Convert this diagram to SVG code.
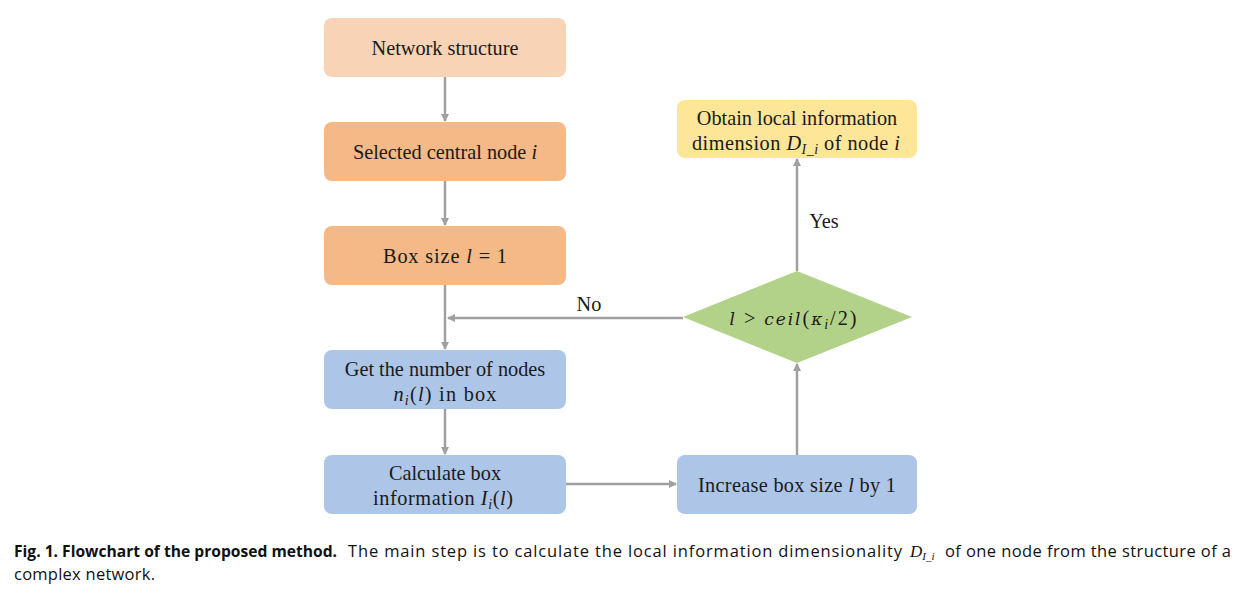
<svg xmlns="http://www.w3.org/2000/svg" width="1246" height="596" viewBox="0 0 1246 596">
<style>
.t{font-family:"Liberation Serif","Times New Roman",serif;font-size:20.3px;fill:#1a1a1a;text-anchor:middle}
.m{font-style:italic}
.s{font-style:italic;font-size:14px}
.dm{font-family:"DejaVu Serif",serif;font-style:italic;font-size:17px}
.c{font-family:"Open Sans","DejaVu Sans",sans-serif;font-size:16.5px;fill:#111}
.b{font-weight:bold}
.e{stroke:#a0a0a0;stroke-width:2.5;fill:none;marker-end:url(#ah)}
</style>
<defs>
<marker id="ah" markerWidth="8" markerHeight="8" refX="7" refY="4" orient="auto" markerUnits="userSpaceOnUse" viewBox="0 0 8 8">
<path d="M0,0 L8,4 L0,8 Z" fill="#a0a0a0"/>
</marker>
</defs>
<rect width="1246" height="596" fill="#fff"/>
<g id="connectors">
<line class="e" x1="445" y1="77" x2="445" y2="121"/>
<line class="e" x1="445" y1="181" x2="445" y2="225"/>
<line class="e" x1="445" y1="285" x2="445" y2="349"/>
<line class="e" x1="683" y1="318" x2="448" y2="318"/>
<line class="e" x1="445" y1="409" x2="445" y2="454"/>
<line class="e" x1="566" y1="484" x2="676" y2="484"/>
<line class="e" x1="797" y1="455" x2="797" y2="364"/>
<line class="e" x1="797" y1="271" x2="797" y2="159"/>
<text class="t" x="589" y="311">No</text>
<text class="t" x="824" y="228">Yes</text>
</g>
<g id="n1">
<rect x="324" y="18" width="242" height="59" rx="8" fill="#f8d3b5"/>
<text class="t" x="445" y="55">Network structure</text>
</g>
<g id="n2">
<rect x="324" y="122" width="242" height="59" rx="8" fill="#f4b987"/>
<text class="t" x="445" y="159">Selected central node <tspan class="m">i</tspan></text>
</g>
<g id="n3">
<rect x="324" y="226" width="242" height="59" rx="8" fill="#f4b987"/>
<text class="t" x="445" y="263" textLength="124" lengthAdjust="spacing">Box size <tspan class="m">l</tspan> = 1</text>
</g>
<g id="n4">
<rect x="324" y="350" width="242" height="59" rx="8" fill="#adc6e8"/>
<text class="t" x="445" y="376">Get the number of nodes</text>
<text class="t" x="445" y="401" textLength="103" lengthAdjust="spacing"><tspan class="m">n</tspan><tspan class="s" dy="4">i</tspan><tspan dy="-4">(</tspan><tspan class="m">l</tspan>) in box</text>
</g>
<g id="n5">
<rect x="324" y="455" width="242" height="59" rx="8" fill="#adc6e8"/>
<text class="t" x="445" y="480">Calculate box</text>
<text class="t" x="443" y="505" textLength="140" lengthAdjust="spacing">information <tspan class="m">I</tspan><tspan class="s" dy="4">i</tspan><tspan dy="-4">(</tspan><tspan class="m">l</tspan>)</text>
</g>
<g id="n6">
<rect x="677" y="455" width="240" height="59" rx="8" fill="#adc6e8"/>
<text class="t" x="797" y="492" textLength="198" lengthAdjust="spacing">Increase box size <tspan class="m">l</tspan> by 1</text>
</g>
<g id="n7">
<polygon points="683,317 797,271 912,317 797,363" fill="#b2d28a"/>
<text class="t" x="793" y="325" textLength="127" lengthAdjust="spacing"><tspan class="dm">l</tspan> &gt; <tspan class="dm">ceil</tspan>(<tspan class="dm">κ</tspan><tspan class="s" dy="4">i</tspan><tspan dy="-4">/2)</tspan></text>
</g>
<g id="n8">
<rect x="677" y="100" width="240" height="58" rx="8" fill="#fee699"/>
<text class="t" x="797" y="125">Obtain local information</text>
<text class="t" x="796" y="150" textLength="208" lengthAdjust="spacing">dimension <tspan class="m">D</tspan><tspan class="s" dy="4">I_i</tspan><tspan dy="-4">  of node </tspan><tspan class="m">i</tspan></text>
</g>
<g id="caption">
<text class="c b" x="14" y="557" textLength="323" lengthAdjust="spacingAndGlyphs">Fig. 1.  Flowchart of the proposed method.</text>
<text class="c" x="348" y="557" textLength="554" lengthAdjust="spacing">The main step is to calculate the local information dimensionality</text>
<text class="c" x="910" y="557"><tspan font-family="Liberation Serif,serif" font-style="italic" font-size="17">D</tspan><tspan font-family="Liberation Serif,serif" font-style="italic" font-size="11" dy="3">I_i</tspan></text>
<text class="c" x="945" y="557" textLength="286" lengthAdjust="spacing">of one node from the structure of a</text>
<text class="c" x="14" y="580" textLength="141" lengthAdjust="spacing">complex network.</text>
</g>
</svg>
